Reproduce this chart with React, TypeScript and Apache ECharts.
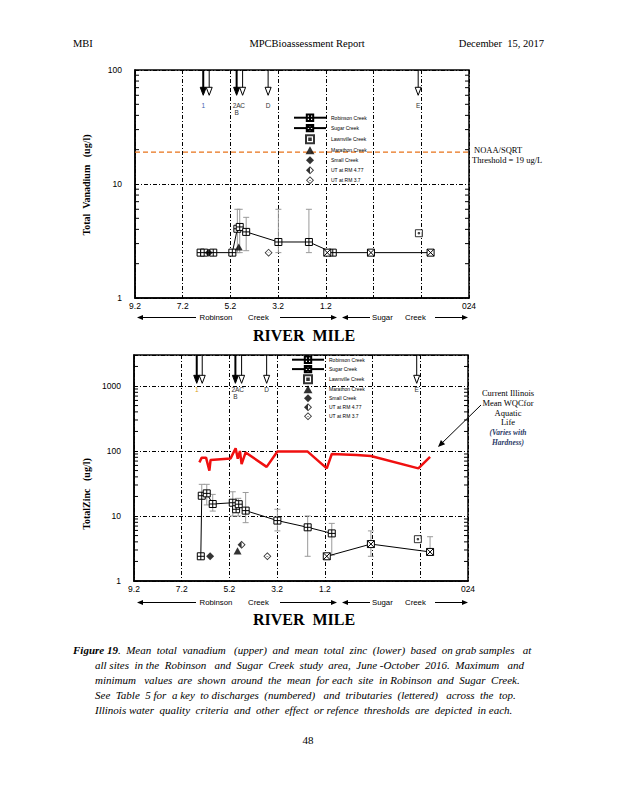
import React, { useEffect, useRef } from 'react';
import * as echarts from 'echarts';

// ---------------- DATA ----------------
// x position = distance downstream in chart units (0 = RM 9.2 of Robinson Creek)
const xTickValues = [0, 2, 4, 6, 8, 10, 12, 14];
const xTickLabels = ['9.2', '7.2', '5.2', '3.2', '1.2', '', '', '024'];
const vanYTicks = [1, 10, 100];
const zincYTicks = [1, 10, 100, 1000];
const seriesNames = ['Robinson Creek', 'Sugar Creek', 'Lawnville Creek', 'Marathon Creek', 'Small Creek', 'UT at RM 4.77', 'UT at RM 3.7'];

// Vanadium (ug/l)
const vanRobinson = [[2.75, 2.5], [2.9, 2.5], [3.28, 2.5], [4.08, 2.5], [4.29, 4.05], [4.39, 4.2], [4.66, 3.8], [6.01, 3.1], [7.29, 3.1], [8.29, 2.5]];
const vanSugar = [[8.06, 2.5], [9.89, 2.5], [12.39, 2.5]];
const vanLawnville = [[11.9, 3.7]];
const vanMarathon = [[4.35, 2.8]];
const vanSmall = [[3.09, 2.5]];
const vanUT477: number[][] = [];
const vanUT37 = [[5.6, 2.5]];
const vanRange = [[4.29, 2.5, 6], [4.39, 2.5, 6], [4.66, 2.6, 5.1], [6.01, 2.5, 6], [7.29, 2.5, 6]];
const noaaThreshold = 19;

// Zinc (ug/l)
const zincRobinson = [[2.8, 2.4], [2.84, 20.5], [3.05, 22.3], [3.3, 15.3], [4.14, 16], [4.28, 12.7], [4.39, 15.2], [4.68, 12.1], [6.01, 8.5], [7.28, 6.7], [8.29, 5.4]];
const zincSugar = [[8.08, 2.4], [9.93, 3.7], [12.41, 2.8]];
const zincLawnville = [[11.9, 4.4]];
const zincMarathon = [[4.34, 2.9]];
const zincSmall = [[3.19, 2.4]];
const zincUT477 = [[4.51, 3.6]];
const zincUT37 = [[5.59, 2.4]];
const zincRange = [[2.84, 20.5, 30.7], [3.05, 14.8, 30.7], [3.3, 11.9, 21.5], [4.14, 10, 23.6], [4.37, 10, 18.7], [4.68, 7.9, 23], [6.01, 5.9, 12.7], [7.28, 2.4, 10], [8.29, 2.5, 7.7], [9.93, 2.4, 5.9], [12.41, 2.5, 4.8]];
const zincWqc = [[2.74, 67], [2.84, 79], [3.02, 79], [3.16, 50], [3.21, 73], [4.05, 77], [4.26, 110], [4.35, 76], [4.44, 100], [4.51, 63], [4.68, 95], [5.56, 57], [6.01, 98], [7.28, 98], [8.08, 54], [8.29, 90], [9.33, 87], [9.93, 84], [11.92, 54], [12.41, 81.5]];

// Discharges (numbered) and tributaries (lettered) across the top
const vanArrowX = [2.86, 3.11, 4.26, 4.51, 5.58, 11.87];
const zincArrowX = [2.63, 2.86, 4.25, 4.51, 5.56, 11.85];
const arrowFilled = [true, false, true, false, false, false];
const arrowLabels = ['1', '', '2A', 'C', 'D', 'E'];
const arrowSubLabels = ['', '', 'B', '', '', ''];
const vanArrowTip = 60;
const zincArrowTip = 1100;

// minor log ticks
const vanMinorTicks = [2, 3, 4, 5, 6, 7, 8, 9, 20, 30, 40, 50, 60, 70, 80, 90];
const zincMinorTicks = [2, 3, 4, 5, 6, 7, 8, 9, 20, 30, 40, 50, 60, 70, 80, 90, 200, 300, 400, 500, 600, 700, 800, 900, 2000];

// ---------------- STYLE ----------------
const FONT_SANS = '"Liberation Sans", Arial, sans-serif';
const FONT_SERIF = '"Liberation Serif", "Times New Roman", serif';
const symRobinson = 'path://M0,0H10V10H0Z M5,0V10 M0,5H10';
const symSugar = 'path://M0,0H10V10H0Z M0,0L10,10 M10,0L0,10';
const symLawn = 'path://M0,0H10V10H0Z M4,4H6V6H4Z';
const symTri = 'path://M5,0L10,9L0,9Z';
const symDiamond = 'path://M5,0L10,5L5,10L0,5Z';
const symHalf = 'path://M5,0L5,10L0,5Z M5,0L10,5L5,10Z M5,1.6L5,8.4L8.4,5Z';
const symEmptyDiamond = 'path://M5,0L10,5L5,10L0,5Z M5,1.5L1.5,5L5,8.5L8.5,5Z M3.8,5H6.2V5.6H3.8Z';
const DASH = [4, 2, 1, 2];

function errorBarRender(params: any, api: any) {
  const x = api.value(0);
  const lo = api.coord([x, api.value(1)]);
  const hi = api.coord([x, api.value(2)]);
  const c = 3;
  const st = { stroke: '#9a9a9a', lineWidth: 1 };
  return {
    type: 'group',
    children: [
      { type: 'line', shape: { x1: lo[0], y1: lo[1], x2: hi[0], y2: hi[1] }, style: st },
      { type: 'line', shape: { x1: lo[0] - c, y1: lo[1], x2: lo[0] + c, y2: lo[1] }, style: st },
      { type: 'line', shape: { x1: hi[0] - c, y1: hi[1], x2: hi[0] + c, y2: hi[1] }, style: st },
    ],
  };
}

function minorRender(params: any, api: any) {
  const v = api.value(1);
  const l = api.coord([0, v]);
  const r = api.coord([14, v]);
  const st = { stroke: '#000', lineWidth: 1 };
  return {
    type: 'group',
    children: [
      { type: 'line', shape: { x1: l[0], y1: l[1], x2: l[0] + 4, y2: l[1] }, style: st },
      { type: 'line', shape: { x1: r[0] - 4, y1: r[1], x2: r[0], y2: r[1] }, style: st },
    ],
  };
}

function makeArrowRender(yMax: number, firstColor: string, labOff: number, subOff: number) {
  return (params: any, api: any) => {
    const i = params.dataIndex;
    const x = api.value(0);
    const tip = api.coord([x, api.value(1)]);
    const top = api.coord([x, yMax]);
    const filled = arrowFilled[i];
    const h = 8;
    const w = 3;
    const children: any[] = [
      { type: 'line', shape: { x1: top[0], y1: top[1], x2: tip[0], y2: tip[1] - h + 1 }, style: { stroke: '#000', lineWidth: filled ? 2 : 1 } },
      { type: 'polygon', shape: { points: [[tip[0] - w, tip[1] - h], [tip[0] + w, tip[1] - h], [tip[0], tip[1]]] }, style: { fill: filled ? '#000' : '#fff', stroke: '#000', lineWidth: 1 } },
    ];
    if (arrowLabels[i]) {
      children.push({ type: 'text', x: tip[0], y: tip[1] + labOff, style: { text: arrowLabels[i], textAlign: 'center', textVerticalAlign: 'middle', fontSize: 6.5, fontFamily: FONT_SANS, fill: i === 0 ? firstColor : '#333' } });
    }
    if (arrowSubLabels[i]) {
      children.push({ type: 'text', x: tip[0], y: tip[1] + subOff, style: { text: arrowSubLabels[i], textAlign: 'center', textVerticalAlign: 'middle', fontSize: 6.5, fontFamily: FONT_SANS, fill: '#333' } });
    }
    return { type: 'group', children };
  };
}

function chartSeries(g: number, d: any) {
  const ax = { xAxisIndex: g, yAxisIndex: g, symbolKeepAspect: true };
  const open = { color: '#fff', borderColor: '#000', borderWidth: 1 };
  const solid = { color: '#000', borderWidth: 0 };
  return [
    { type: 'custom', name: 'range' + g, xAxisIndex: g, yAxisIndex: g, data: d.range, encode: { x: 0, y: [1, 2] }, renderItem: errorBarRender, z: 2, silent: true },
    { type: 'custom', name: 'ticks' + g, xAxisIndex: g, yAxisIndex: g, data: d.minor.map((v: number) => [0, v]), encode: { x: 0, y: 1 }, renderItem: minorRender, z: 3, silent: true },
    { type: 'custom', name: 'arrows' + g, xAxisIndex: g, yAxisIndex: g, data: d.arrowX.map((x: number) => [x, d.tip]), encode: { x: 0, y: 1 }, renderItem: makeArrowRender(d.yMax, d.firstColor, d.labOff, d.subOff), z: 4, silent: true },
    { type: 'line', name: seriesNames[0], ...ax, data: d.robinson, symbol: symRobinson, symbolSize: 7, itemStyle: open, lineStyle: { color: '#000', width: 1 }, z: 5 },
    { type: 'line', name: seriesNames[1], ...ax, data: d.sugar, symbol: symSugar, symbolSize: 7, itemStyle: open, lineStyle: { color: '#000', width: 1 }, z: 5 },
    { type: 'scatter', name: seriesNames[2], ...ax, data: d.lawn, symbol: symLawn, symbolSize: 7, itemStyle: open, z: 6 },
    { type: 'scatter', name: seriesNames[3], ...ax, data: d.marathon, symbol: symTri, symbolSize: 8, itemStyle: solid, z: 6 },
    { type: 'scatter', name: seriesNames[4], ...ax, data: d.small, symbol: symDiamond, symbolSize: 8, itemStyle: solid, z: 6 },
    { type: 'scatter', name: seriesNames[5], ...ax, data: d.ut477, symbol: symHalf, symbolSize: 8, itemStyle: solid, z: 6 },
    { type: 'scatter', name: seriesNames[6], ...ax, data: d.ut37, symbol: symEmptyDiamond, symbolSize: 8, itemStyle: solid, z: 6 },
  ];
}

function T(x: number, y: number, text: string, o: any = {}) {
  return {
    type: 'text', x, y, silent: true, rotation: o.rotation || 0,
    style: {
      text, textAlign: o.align || 'left', textVerticalAlign: 'middle',
      fontSize: o.size || 10, fontFamily: o.family || FONT_SERIF,
      fontWeight: o.weight || 'normal', fontStyle: o.fstyle || 'normal',
      fill: o.color || '#000', rich: o.rich,
    },
  };
}

function arrowEl(x1: number, y1: number, x2: number, y2: number, head = 6, half = 2.5) {
  const dx = x2 - x1, dy = y2 - y1;
  const len = Math.hypot(dx, dy);
  const ux = dx / len, uy = dy / len;
  const bx = x2 - ux * head, by = y2 - uy * head;
  const px = -uy, py = ux;
  return [
    { type: 'line', silent: true, shape: { x1, y1, x2: bx, y2: by }, style: { stroke: '#000', lineWidth: 1 } },
    { type: 'polygon', silent: true, shape: { points: [[x2, y2], [bx + px * half, by + py * half], [bx - px * half, by - py * half]] }, style: { fill: '#000' } },
  ];
}

function riverRow(y: number) {
  const s = { family: FONT_SANS, size: 7.8 };
  return [
    ...arrowEl(196, y, 137, y),
    T(199.5, y, 'Robinson', s),
    T(248, y, 'Creek', s),
    ...arrowEl(280, y, 337, y),
    ...arrowEl(370, y, 342, y),
    T(372, y, 'Sugar', s),
    T(405, y, 'Creek', s),
    ...arrowEl(435, y, 468, y),
  ];
}

const axisLabelCommon = { color: '#000', fontSize: 8.5, fontFamily: FONT_SANS };

function buildOption() {
  const xAxis = [0, 1].map((g) => ({
    gridIndex: g, type: 'value', min: 0, max: 14, interval: 2,
    axisLine: { show: true, onZero: false, lineStyle: { color: '#000', width: 1.5 } },
    axisTick: { show: false },
    axisLabel: { ...axisLabelCommon, margin: 3, showMinLabel: true, showMaxLabel: true, formatter: (v: number) => { const i = xTickValues.indexOf(Math.round(v)); return i >= 0 ? xTickLabels[i] : ''; } },
    splitLine: { show: true, lineStyle: { color: '#000', type: DASH, width: 1 } },
  }));
  const yBase = (g: number, max: number, ticks: number[]) => ({
    gridIndex: g, type: 'log', logBase: 10, min: 1, max,
    axisLine: { show: true, lineStyle: { color: '#000', width: 1.5 } },
    axisTick: { show: false },
    axisLabel: { ...axisLabelCommon, margin: 13, formatter: (v: number) => { const r = Math.round(v); return ticks.includes(r) && Math.abs(v - r) < 1e-6 * r + 1e-9 ? String(r) : ''; } },
    splitLine: { show: true, lineStyle: { color: '#000', type: DASH, width: 1 } },
  });

  const series: any[] = [
    ...chartSeries(0, { range: vanRange, minor: vanMinorTicks, arrowX: vanArrowX, tip: vanArrowTip, yMax: 100, firstColor: '#3b62b0', labOff: 10, subOff: 17, robinson: vanRobinson, sugar: vanSugar, lawn: vanLawnville, marathon: vanMarathon, small: vanSmall, ut477: vanUT477, ut37: vanUT37 }),
    { type: 'line', name: 'NOAA/SQRT Threshold', xAxisIndex: 0, yAxisIndex: 0, data: [[0, noaaThreshold], [14, noaaThreshold]], symbol: 'none', lineStyle: { color: '#e8731a', type: [5, 3], width: 1.3 }, z: 3, silent: true },
    ...chartSeries(1, { range: zincRange, minor: zincMinorTicks, arrowX: zincArrowX, tip: zincArrowTip, yMax: 3000, firstColor: '#d9a21b', labOff: 6.5, subOff: 13.5, robinson: zincRobinson, sugar: zincSugar, lawn: zincLawnville, marathon: zincMarathon, small: zincSmall, ut477: zincUT477, ut37: zincUT37 }),
    { type: 'line', name: 'Illinois WQC', xAxisIndex: 1, yAxisIndex: 1, data: zincWqc, symbol: 'none', lineStyle: { color: '#f01010', width: 2.5 }, z: 4, silent: true },
  ];

  const legendBase = {
    orient: 'vertical', itemWidth: 32, itemHeight: 8, padding: 0, selectedMode: false, symbolKeepAspect: true,
    data: seriesNames, textStyle: { fontSize: 5, color: '#000', fontFamily: FONT_SANS, lineHeight: 8, padding: [0, 0, 0, 0] },
  };

  const ann = [
    T(508, 392.5, 'Current Illinois', { align: 'center', size: 8.5 }),
    T(508, 402.7, 'Mean WQCfor', { align: 'center', size: 8.5 }),
    T(508, 412.7, 'Aquatic', { align: 'center', size: 8.5 }),
    T(508, 422.3, 'Life', { align: 'center', size: 8.5 }),
    T(508, 432.3, '(Varies with', { align: 'center', size: 7.5, weight: 'bold', fstyle: 'italic', color: '#2b3a67' }),
    T(508, 442.3, 'Hardness)', { align: 'center', size: 7.5, weight: 'bold', fstyle: 'italic', color: '#2b3a67' }),
    ...arrowEl(481, 405, 438, 447, 7, 3),
  ];

  const capSize = 11;
  const caption = [
    T(73, 650, '{b|Figure 19}.  Mean  total  vanadium   (upper)  and  mean  total  zinc  (lower)  based  on grab samples   at', {
      size: capSize, fstyle: 'italic',
      rich: { b: { fontWeight: 'bold', fontStyle: 'italic', fontSize: capSize, fontFamily: FONT_SERIF } },
    }),
    T(95, 665, 'all sites  in the  Robinson   and  Sugar  Creek  study  area,  June -October  2016.  Maximum   and', { size: capSize, fstyle: 'italic' }),
    T(95, 680, 'minimum   values  are  shown  around  the  mean  for each  site  in Robinson  and  Sugar  Creek.', { size: capSize, fstyle: 'italic' }),
    T(95, 695, 'See  Table  5 for  a key  to discharges  (numbered)   and  tributaries  (lettered)   across  the  top.', { size: capSize, fstyle: 'italic' }),
    T(95, 710, 'Illinois water  quality  criteria  and  other  effect  or refence  thresholds  are  depicted  in each.', { size: capSize, fstyle: 'italic' }),
  ];

  const graphic = [
    T(73, 43, 'MBI', { size: 10.5 }),
    T(307, 43, 'MPCBioassessment Report', { size: 10.5, align: 'center' }),
    T(544, 43, 'December  15, 2017', { size: 10.5, align: 'right' }),
    T(86.5, 185, 'Total  Vanadium   (ug/l)', { size: 10, weight: 'bold', align: 'center', rotation: Math.PI / 2 }),
    T(86.5, 494, 'TotalZinc   (ug/l)', { size: 10, weight: 'bold', align: 'center', rotation: Math.PI / 2 }),
    T(474, 150, 'NOAA/SQRT', { size: 8.5 }),
    T(472, 160, 'Threshold = 19 ug/L', { size: 8.5 }),
    ...riverRow(317.5),
    ...riverRow(602.5),
    T(304, 335, 'RIVER  MILE', { size: 16, weight: 'bold', align: 'center' }),
    T(304, 619, 'RIVER  MILE', { size: 16, weight: 'bold', align: 'center' }),
    ...ann,
    ...caption,
    T(308, 740, '48', { size: 11, align: 'center' }),
  ];

  return {
    animation: false,
    backgroundColor: '#fff',
    textStyle: { fontFamily: FONT_SANS },
    grid: [
      { left: 135, top: 70, width: 334, height: 228, show: true, borderColor: '#000', borderWidth: 1.5, backgroundColor: 'transparent' },
      { left: 134, top: 355, width: 334, height: 226, show: true, borderColor: '#000', borderWidth: 1.5, backgroundColor: 'transparent' },
    ],
    xAxis,
    yAxis: [yBase(0, 100, vanYTicks), yBase(1, 3000, zincYTicks)],
    legend: [
      { ...legendBase, left: 293, top: 113.5, itemGap: 2 },
      { ...legendBase, left: 291, top: 355.5, itemGap: 1 },
    ],
    series,
    graphic: { elements: graphic },
  };
}

export default function App() {
  const ref = useRef<HTMLDivElement>(null);
  useEffect(() => {
    if (!ref.current) return;
    const chart = echarts.init(ref.current, undefined, { renderer: 'svg' });
    chart.setOption(buildOption() as any);
    return () => chart.dispose();
  }, []);
  return <div ref={ref} style={{ position: 'absolute', left: 0, top: 0, width: 618, height: 800, background: '#fff' }} />;
}
